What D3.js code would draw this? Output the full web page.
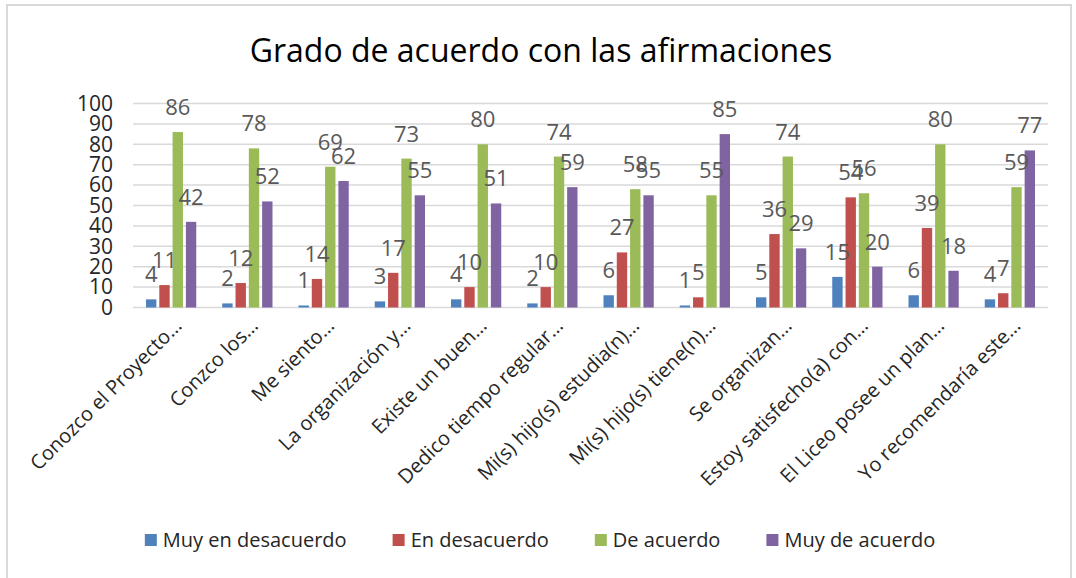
<!DOCTYPE html>
<html>
<head>
<meta charset="utf-8">
<script src="https://cdn.jsdelivr.net/npm/d3@7.9.0/dist/d3.min.js"></script>
<style>
  body { margin: 0; background: #fff; }
  svg { display: block; font-family: 'Open Sans', 'Noto Sans', sans-serif; }
</style>
</head>
<body>
<svg id="chart" width="1076" height="578"></svg>
<script>
// Data
const categories = [
  'Conozco el Proyecto…', 'Conzco los…', 'Me siento…', 'La organización y…',
  'Existe un buen…', 'Dedico tiempo regular…', 'Mi(s) hijo(s) estudia(n)…',
  'Mi(s) hijo(s) tiene(n)…', 'Se organizan…', 'Estoy satisfecho(a) con…',
  'El Liceo posee un plan…', 'Yo recomendaría este…'
];
const seriesNames = ['Muy en desacuerdo', 'En desacuerdo', 'De acuerdo', 'Muy de acuerdo'];
const muyEnDesacuerdo = [4, 2, 1, 3, 4, 2, 6, 1, 5, 15, 6, 4];
const enDesacuerdo    = [11, 12, 14, 17, 10, 10, 27, 5, 36, 54, 39, 7];
const deAcuerdo       = [86, 78, 69, 73, 80, 74, 58, 55, 74, 56, 80, 59];
const muyDeAcuerdo    = [42, 52, 62, 55, 51, 59, 55, 85, 29, 20, 18, 77];
const yTicks = [0, 10, 20, 30, 40, 50, 60, 70, 80, 90, 100];
const colors = ['#4F81BD', '#C0504D', '#9BBB59', '#8064A2'];

const seriesValues = [muyEnDesacuerdo, enDesacuerdo, deAcuerdo, muyDeAcuerdo];

const svg = d3.select('#chart');

// Outer chart border
svg.append('rect')
  .attr('x', 7).attr('y', 5)
  .attr('width', 1064).attr('height', 590)
  .attr('fill', '#fff')
  .attr('stroke', '#D9D9D9')
  .attr('stroke-width', 2);

// Title
svg.append('text')
  .attr('x', 541).attr('y', 62)
  .attr('text-anchor', 'middle')
  .attr('font-size', 32)
  .attr('fill', '#000')
  .text('Grado de acuerdo con las afirmaciones');

// Scales
const x = d3.scaleBand().domain(categories).range([133, 1048]);
const x1 = d3.scaleBand().domain(seriesNames)
  .range([13, x.bandwidth() - 13])
  .paddingInner(0.22);
const y = d3.scaleLinear().domain([0, 100]).range([307.5, 103.5]);
const color = d3.scaleOrdinal().domain(seriesNames).range(colors);

// Gridlines
svg.append('g')
  .selectAll('line')
  .data(yTicks)
  .join('line')
  .attr('x1', 133).attr('x2', 1048)
  .attr('y1', d => y(d)).attr('y2', d => y(d))
  .attr('stroke', '#D9D9D9')
  .attr('stroke-width', 1.5);

// Y axis labels
const yAxis = svg.append('g')
  .attr('transform', 'translate(113,0)')
  .call(d3.axisLeft(y).tickValues(yTicks).tickSize(0).tickPadding(0));
yAxis.select('.domain').remove();
yAxis.selectAll('text')
  .attr('font-size', 21)
  .attr('font-family', "'Open Sans', sans-serif")
  .attr('fill', '#262626');

// Bars
const rows = categories.map((c, i) => ({
  cat: c,
  vals: seriesNames.map((s, j) => ({ s, v: seriesValues[j][i] }))
}));

const groups = svg.append('g')
  .selectAll('g')
  .data(rows)
  .join('g')
  .attr('transform', d => `translate(${x(d.cat)},0)`);

groups.selectAll('rect')
  .data(d => d.vals)
  .join('rect')
  .attr('x', d => x1(d.s))
  .attr('y', d => y(d.v))
  .attr('width', x1.bandwidth())
  .attr('height', d => y(0) - y(d.v))
  .attr('fill', d => color(d.s));

// Data labels
groups.selectAll('text')
  .data(d => d.vals)
  .join('text')
  .attr('x', d => x1(d.s) + x1.bandwidth() / 2)
  .attr('y', d => y(d.v) - 17)
  .attr('text-anchor', 'middle')
  .attr('font-size', 22)
  .attr('fill', '#595959')
  .text(d => d.v);

// Category labels, rotated
svg.append('g')
  .selectAll('text')
  .data(categories)
  .join('text')
  .attr('transform', d => `translate(${x(d) + x.bandwidth() / 2 + 12},327) rotate(-45)`)
  .attr('text-anchor', 'end')
  .attr('font-size', 20)
  .attr('fill', '#262626')
  .text(d => d);

// Legend
const legendGap = 46;
const legend = svg.append('g');
let lx = 0;
seriesNames.forEach((s, i) => {
  const g = legend.append('g').attr('transform', `translate(${lx},0)`);
  g.append('rect')
    .attr('x', 0).attr('y', 534)
    .attr('width', 12).attr('height', 12)
    .attr('fill', color(s));
  const t = g.append('text')
    .attr('x', 18).attr('y', 547)
    .attr('font-size', 20)
    .attr('fill', '#262626')
    .text(s);
  lx += 18 + t.node().getComputedTextLength() + legendGap;
});
const legendWidth = lx - legendGap;
legend.attr('transform', `translate(${540 - legendWidth / 2},0)`);
</script>
</body>
</html>
